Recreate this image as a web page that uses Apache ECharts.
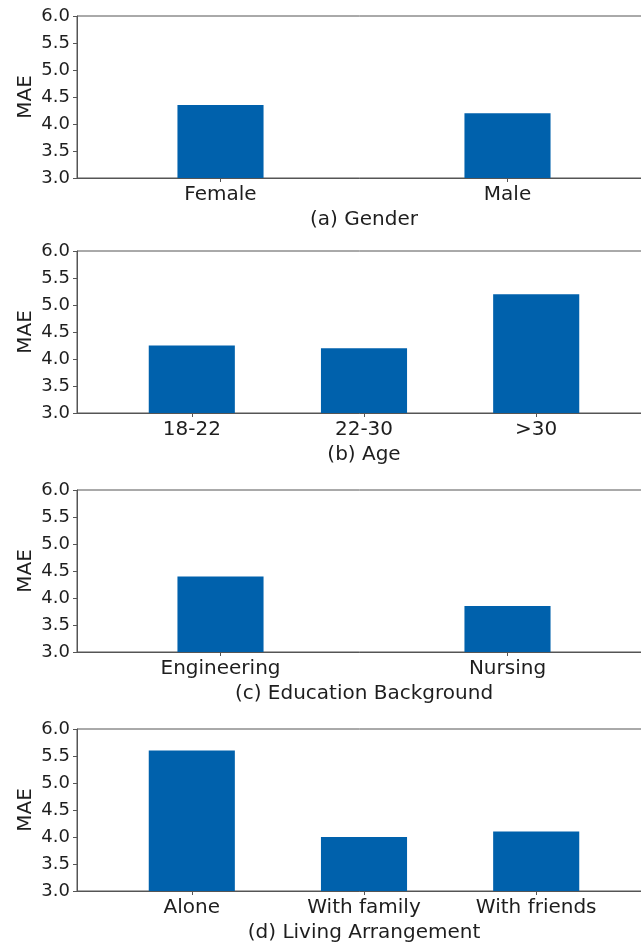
<!DOCTYPE html>
<html>
<head>
<meta charset="utf-8">
<script src="https://cdn.jsdelivr.net/npm/echarts@6/dist/echarts.min.js"></script>
<style>
  html, body { margin: 0; padding: 0; background: #fff; }
  #chart { width: 641px; height: 944px; }
</style>
</head>
<body>
<div id="chart"></div>
<script>
// values
const genderCats = ['Female', 'Male'];
const genderMae = [4.35, 4.2];
const ageCats = ['18-22', '22-30', '>30'];
const ageMae = [4.25, 4.2, 5.2];
const eduCats = ['Engineering', 'Nursing'];
const eduMae = [4.4, 3.85];
const livingCats = ['Alone', 'With family', 'With friends'];
const livingMae = [5.6, 4.0, 4.1];
const captions = ['(a) Gender', '(b) Age', '(c) Education Background', '(d) Living Arrangement'];
const yMin = 3.0;
const yMax = 6.0;
const yStep = 0.5;

const panels = [
  { cats: genderCats, vals: genderMae, pad: 0.5, bar: '30%', top: 16 },
  { cats: ageCats, vals: ageMae, pad: 2 / 3, bar: '50%', top: 251 },
  { cats: eduCats, vals: eduMae, pad: 0.5, bar: '30%', top: 490 },
  { cats: livingCats, vals: livingMae, pad: 2 / 3, bar: '50%', top: 729 },
];

const textColor = '#1e1e1e';
const spineColor = '#555';
const barColor = '#0061ac';
const font = 'DejaVu Sans';

const chart = echarts.init(document.getElementById('chart'), null, { renderer: 'canvas' });

const grid = [];
const xAxis = [];
const yAxis = [];
const series = [];

panels.forEach((p, i) => {
  const idx = p.cats.map((c, k) => k);
  // plot runs past the right edge, like the cropped original
  grid.push({
    left: 77,
    width: 574,
    top: p.top,
    height: 162,
    outerBoundsMode: 'none',
    containLabel: false,
    show: true,
    borderColor: spineColor,
    borderWidth: 1,
    backgroundColor: 'transparent',
  });
  xAxis.push({
    gridIndex: i,
    type: 'value',
    min: -p.pad,
    max: p.cats.length - 1 + p.pad,
    name: captions[i],
    nameLocation: 'middle',
    nameGap: 32,
    nameMoveOverlap: false,
    nameTextStyle: { color: textColor, fontSize: 20, fontFamily: font },
    splitLine: { show: false },
    axisLine: { show: true, onZero: false, lineStyle: { color: spineColor, width: 1 } },
    axisTick: {
      show: true,
      customValues: idx,
      length: 4,
      lineStyle: { color: spineColor, width: 1 },
    },
    axisLabel: {
      customValues: idx,
      formatter: (v) => p.cats[Math.round(v)],
      color: textColor,
      fontSize: 20,
      fontFamily: font,
      margin: 7,
    },
  });
  yAxis.push({
    gridIndex: i,
    type: 'value',
    min: yMin,
    max: yMax,
    interval: yStep,
    name: 'MAE',
    nameLocation: 'middle',
    nameGap: 41,
    nameMoveOverlap: false,
    nameTextStyle: { color: textColor, fontSize: 20, fontFamily: font },
    splitLine: { show: false },
    axisLine: { show: true, onZero: false, lineStyle: { color: spineColor, width: 1 } },
    axisTick: { show: true, length: 4, lineStyle: { color: spineColor, width: 1 } },
    axisLabel: {
      formatter: (v) => v.toFixed(1),
      color: textColor,
      fontSize: 18,
      fontFamily: font,
      margin: 7,
    },
  });
  series.push({
    type: 'bar',
    xAxisIndex: i,
    yAxisIndex: i,
    barWidth: p.bar,
    data: p.vals.map((v, k) => [k, v]),
    itemStyle: { color: barColor },
    clip: true,
    silent: true,
  });
});

chart.setOption({
  animation: false,
  backgroundColor: '#fff',
  grid,
  xAxis,
  yAxis,
  series,
});
</script>
</body>
</html>
